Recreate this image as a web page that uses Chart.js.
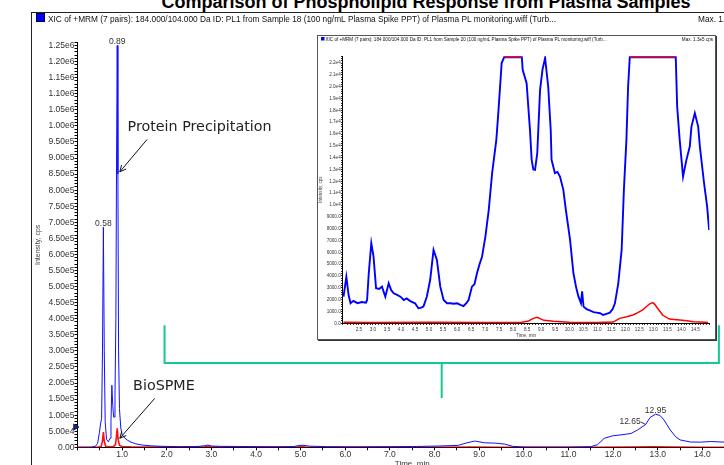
<!DOCTYPE html>
<html>
<head>
<meta charset="utf-8">
<script src="https://cdn.jsdelivr.net/npm/chart.js@4.4.1/dist/chart.umd.min.js"></script>
<style>
  html, body { margin: 0; padding: 0; background: #fff; overflow: hidden; }
  #page { position: relative; width: 724px; height: 465px; overflow: hidden; background: #fff; }
  #title { position: absolute; left: -74px; width: 1000px; top: -8.5px; text-align: center;
           font: bold 18px "Liberation Sans", Arial, sans-serif; line-height: 21px; color: #000; white-space: nowrap; }
  #frame { position: absolute; left: 31px; top: 12px; width: 900px; height: 600px;
           border-left: 1px solid #222; border-top: 1px solid #222; }
  #main { position: absolute; left: 0; top: 0; }
  #insetBox { position: absolute; left: 317px; top: 35px; width: 397px; height: 303px;
              border: 1px solid #555; box-shadow: 1px 1px 0 #333; background: #fff; }
  #inset { position: absolute; left: 0; top: 0; }
</style>
</head>
<body>
<div id="page">
  <div id="title">Comparison of Phospholipid Response from Plasma Samples</div>
  <div id="frame"></div>
  <canvas id="main" width="752" height="476"></canvas>
  <div id="insetBox"><canvas id="inset" width="397" height="303"></canvas></div>
</div>
<script>
// main trace, Sample 18 (protein precipitation), minutes / cps
const pptTime = [0, 0.30, 0.40, 0.45, 0.49, 0.52, 0.54, 0.56, 0.58, 0.60, 0.62, 0.65, 0.69, 0.73, 0.75, 0.77,
  0.79, 0.81, 0.82, 0.84, 0.86, 0.875, 0.89, 0.905, 0.92, 0.94, 0.97, 1.00, 1.05, 1.12, 1.20, 1.30, 1.45,
  1.65, 1.9, 2.3, 2.7, 2.85, 2.92, 3.0, 3.2, 3.6, 4.0, 4.5, 4.85, 4.98, 5.05, 5.2, 5.6, 6.2, 7.0, 7.6, 8.1,
  8.53, 8.7, 8.9, 9.12, 9.35, 9.57, 9.75, 10.0, 10.5, 11.0, 11.5, 11.65, 11.8, 12.0, 12.2, 12.4, 12.55,
  12.73, 12.83, 12.95, 13.05, 13.14, 13.28, 13.4, 13.5, 13.73, 13.95, 14.18, 14.42, 14.7, 15.0];
const pptIntensity = [0, 0, 3000, 12000, 45000, 76000, 90000, 300000, 685000, 300000, 80000, 25000, 17000,
  28000, 80000, 193000, 130000, 94000, 94000, 160000, 400000, 900000, 1250000, 850000, 300000, 120000,
  60000, 40000, 30000, 22000, 16000, 11000, 7000, 4500, 3000, 2000, 2500, 5000, 7000, 4000, 3000, 2500,
  2000, 1500, 2500, 6000, 6500, 3500, 2000, 1500, 2000, 2500, 4000, 6000, 13000, 19500, 14000, 13000,
  10000, 3000, 800, 600, 600, 2000, 8000, 28000, 36000, 39000, 43000, 54000, 71000, 93000, 103000, 99000,
  85000, 54000, 33000, 23000, 16500, 16000, 18000, 16500, 15000, 12000];

// main trace, BioSPME
const spmeTime = [0, 0.45, 0.53, 0.56, 0.58, 0.60, 0.63, 0.70, 0.80, 0.85, 0.87, 0.89, 0.91, 0.94, 1.0,
  1.2, 1.6, 2.5, 2.85, 2.92, 3.0, 4.0, 4.95, 5.02, 5.1, 6.0, 8.0, 8.85, 9.5, 11.5, 12.3, 12.9, 13.4, 14.0, 15.0];
const spmeIntensity = [0, 0, 3000, 20000, 47000, 18000, 3000, 1500, 2000, 8000, 30000, 59000, 25000, 6000,
  2500, 1200, 600, 400, 1500, 3000, 1000, 400, 1500, 3000, 800, 300, 200, 500, 200, 100, 700, 1700, 500, 300, 100];

// inset, Sample 20, 2 - 15 min
const zoomPptTime = [1.95, 2.05, 2.13, 2.2, 2.3, 2.45, 2.6, 2.75, 2.79, 2.85, 2.94, 3.02, 3.11, 3.22, 3.32,
  3.44, 3.56, 3.65, 3.74, 3.86, 3.98, 4.1, 4.2, 4.33, 4.5, 4.62, 4.7, 4.8, 4.92, 5.04, 5.16, 5.28, 5.4, 5.52,
  5.64, 5.76, 5.88, 6.0, 6.12, 6.23, 6.33, 6.41, 6.53, 6.62, 6.71, 6.8, 6.89, 7.01, 7.13, 7.25, 7.4, 7.47,
  7.59, 7.68, 8.31, 8.34, 8.48, 8.6, 8.66, 8.72, 8.78, 8.86, 8.96, 9.05, 9.14, 9.25, 9.34, 9.37, 9.49, 9.58,
  9.67, 9.79, 9.88, 10.03, 10.15, 10.25, 10.33, 10.42, 10.46, 10.51, 10.62, 10.75, 10.87, 10.98, 11.1, 11.21,
  11.33, 11.45, 11.55, 11.63, 11.75, 11.87, 11.95, 12.04, 12.1, 12.16, 13.8, 13.85, 13.94, 14.06, 14.18,
  14.3, 14.36, 14.48, 14.6, 14.66, 14.81, 14.92, 14.99];
const zoomPptIntensity = [2250, 3940, 2390, 1700, 1900, 1700, 1800, 1750, 1970, 4230, 6770, 5630, 2960, 2900,
  3100, 2250, 3380, 2800, 2540, 2400, 2250, 1970, 2100, 1880, 1690, 1270, 1300, 1410, 2250, 3660, 6200, 5360,
  3100, 1970, 1700, 1690, 1650, 1690, 1550, 1460, 1700, 1970, 3100, 3300, 4230, 5000, 5630, 7330, 9590,
  12690, 15510, 17770, 22000, 22500, 22500, 21430, 20300, 16350, 13820, 13000, 12970, 14380, 19740, 21500,
  22420, 20020, 16350, 13820, 12690, 12800, 12400, 11280, 9590, 7050, 4230, 3000, 2250, 1700, 2700, 1410,
  1200, 1070, 950, 900, 850, 700, 800, 900, 1200, 1690, 3380, 6200, 11280, 15510, 20000, 22500, 22500, 18330,
  15510, 12400, 13820, 14940, 16630, 17770, 16630, 14940, 11840, 9860, 7890];
const zoomSpmeTime = [1.95, 3, 5, 7, 8.3, 8.55, 8.72, 8.86, 9.0, 9.1, 9.43, 10.0, 11.0, 11.57, 11.8, 12.05,
  12.27, 12.45, 12.62, 12.75, 12.86, 12.98, 13.05, 13.15, 13.33, 13.57, 13.94, 14.2, 14.42, 14.7, 14.95];
const zoomSpmeIntensity = [80, 60, 80, 60, 80, 200, 420, 510, 350, 250, 170, 80, 60, 100, 420, 550, 700, 900,
  1130, 1400, 1630, 1750, 1600, 1270, 700, 360, 280, 220, 140, 100, 60];
// saturated stretches, drawn as a flat red line at the top of the inset
const satStart = [7.68, 12.16];
const satEnd = [8.31, 13.8];
const satLevel = 22500;

// peak labels
const peakTime = [0.58, 0.89, 12.95];
const peakHeight = [685000, 1250000, 103000];
const peakLabel = ['0.58', '0.89', '12.95'];
const shoulderLabel = '12.65';
const shoulderPoint = [12.73, 71000];

const FONT = '"Liberation Sans", Arial, sans-serif';

function points(ts, vs) {
  return ts.map((t, i) => ({ x: t, y: vs[i] }));
}

function fmtMain(v) {
  if (v === 0) return '0.00';
  const e = Math.floor(Math.log10(v) + 1e-9);
  return (v / Math.pow(10, e)).toFixed(2) + 'e' + e;
}

function fmtInset(v) {
  if (v >= 10000) return (v / 10000).toFixed(1) + 'e4';
  return v.toFixed(1);
}

function arrow(ctx, x0, y0, x1, y1) {
  ctx.beginPath();
  ctx.moveTo(x0, y0);
  ctx.lineTo(x1, y1);
  const a = Math.atan2(y1 - y0, x1 - x0);
  const h = 7;
  ctx.moveTo(x1, y1);
  ctx.lineTo(x1 - h * Math.cos(a - 0.45), y1 - h * Math.sin(a - 0.45));
  ctx.moveTo(x1, y1);
  ctx.lineTo(x1 - h * Math.cos(a + 0.45), y1 - h * Math.sin(a + 0.45));
  ctx.stroke();
}

const mainOverlay = {
  id: 'mainOverlay',
  afterDraw(chart) {
    const { ctx, scales: { x, y } } = chart;
    ctx.save();

    // header line
    ctx.fillStyle = '#0000ff';
    ctx.fillRect(37, 14, 7, 7);
    ctx.strokeStyle = '#000033';
    ctx.lineWidth = 1;
    ctx.strokeRect(36.5, 13.5, 8, 8);
    ctx.fillStyle = '#111';
    ctx.font = '8.3px ' + FONT;
    ctx.textAlign = 'left';
    ctx.textBaseline = 'alphabetic';
    ctx.fillText('XIC of +MRM (7 pairs): 184.000/104.000 Da ID: PL1 from Sample 18 (100 ng/mL Plasma Spike PPT) of Plasma PL monitoring.wiff (Turb...', 48, 22);
    ctx.fillText('Max. 1.3e6 cps', 698, 22);

    // peak labels
    ctx.font = '8.5px ' + FONT;
    ctx.fillStyle = '#333';
    ctx.textAlign = 'center';
    peakTime.forEach((t, i) => {
      ctx.fillText(peakLabel[i], x.getPixelForValue(t), y.getPixelForValue(peakHeight[i]) - 1.5);
    });
    const sx = x.getPixelForValue(shoulderPoint[0]);
    const sy = y.getPixelForValue(shoulderPoint[1]);
    ctx.textAlign = 'right';
    ctx.fillText(shoulderLabel, sx - 5, sy);
    ctx.strokeStyle = '#333';
    ctx.beginPath();
    ctx.moveTo(sx - 5, sy - 2.5);
    ctx.lineTo(sx, sy);
    ctx.stroke();

    // callouts
    ctx.font = '14.3px "DejaVu Sans", Verdana, sans-serif';
    ctx.fillStyle = '#222';
    ctx.strokeStyle = '#111';
    ctx.textAlign = 'left';
    ctx.textBaseline = 'middle';
    let tx = x.getPixelForValue(0.948), ty = y.getPixelForValue(857000);
    ctx.fillText('Protein Precipitation', tx + 7.7, ty - 45);
    arrow(ctx, tx + 27.3, ty - 32.4, tx, ty);
    tx = x.getPixelForValue(0.948); ty = y.getPixelForValue(28000);
    ctx.fillText('BioSPME', tx + 13.3, ty - 51.6);
    arrow(ctx, tx + 35, ty - 40, tx, ty);

    // bracket pointing from the zoom window down to the trace
    const bl = x.getPixelForValue(1.95), br = x.getPixelForValue(14.37), bm = x.getPixelForValue(8.16);
    const bTop = y.getPixelForValue(380000), bMid = y.getPixelForValue(262000), bLow = y.getPixelForValue(153000);
    ctx.strokeStyle = '#14c896';
    ctx.lineWidth = 2;
    ctx.beginPath();
    ctx.moveTo(bl, bTop); ctx.lineTo(bl, bMid); ctx.lineTo(br, bMid); ctx.lineTo(br, bTop);
    ctx.moveTo(bm, bMid); ctx.lineTo(bm, bLow);
    ctx.stroke();
    ctx.restore();
  }
};

const insetOverlay = {
  id: 'insetOverlay',
  afterDraw(chart) {
    const { ctx } = chart;
    ctx.save();
    ctx.fillStyle = '#0000ff';
    ctx.fillRect(3, 1, 3.5, 3.5);
    ctx.fillStyle = '#111';
    ctx.font = '4.6px ' + FONT;
    ctx.textBaseline = 'alphabetic';
    ctx.textAlign = 'left';
    ctx.fillText('XIC of +MRM (7 pairs): 184.000/104.000 Da ID: PL1 from Sample 20 (100 ng/mL Plasma Spike PPT) of Plasma PL monitoring.wiff (Turb...', 7.5, 4.8);
    ctx.textAlign = 'right';
    ctx.fillText('Max. 1.3e5 cps', 395, 4.8);
    ctx.restore();
  }
};

new Chart(document.getElementById('main'), {
  type: 'line',
  data: {
    datasets: [
      { label: 'PPT', data: points(pptTime, pptIntensity), borderColor: '#1010ff', borderWidth: 1,
        pointRadius: 0, tension: 0, fill: false },
      { label: 'BioSPME', data: points(spmeTime, spmeIntensity), borderColor: '#ff1010', borderWidth: 1.6,
        pointRadius: 0, tension: 0, fill: false },
      { label: 'threshold', data: [{ x: -0.045, y: 63000 }], showLine: false, clip: false,
        pointStyle: 'triangle', rotation: 90, pointRadius: 3.5, backgroundColor: '#1a237e', borderColor: '#1a237e' }
    ]
  },
  options: {
    responsive: false,
    animation: false,
    events: [],
    layout: { padding: { left: 0, right: 1.75, top: 42.3, bottom: 0 } },
    plugins: { legend: { display: false }, tooltip: { enabled: false } },
    scales: {
      x: {
        type: 'linear', min: 0, max: 15,
        afterFit(s) { s.height = 28.7; },
        grid: { drawOnChartArea: false, drawTicks: true, tickLength: 3, tickColor: '#000' },
        border: { color: '#000', width: 1 },
        ticks: {
          stepSize: 0.5, autoSkip: false, maxRotation: 0, padding: -1,
          color: '#333', font: { family: FONT, size: 8.5 },
          callback: v => (Number.isInteger(v) && v >= 1 && v <= 14) ? v.toFixed(1) : ''
        },
        title: { display: true, text: 'Time, min', color: '#333', font: { family: FONT, size: 8 },
                 padding: { top: 0, bottom: 7.2 } }
      },
      y: {
        min: 0, max: 1260000,
        afterFit(s) { s.width = 77.5; },
        grid: { drawOnChartArea: false, drawTicks: true, tickLength: 3, tickColor: '#000' },
        border: { color: '#000', width: 1 },
        ticks: {
          stepSize: 10000, autoSkip: false, padding: 0,
          color: '#333', font: { family: FONT, size: 8.5 },
          callback: v => (v % 50000 === 0) ? fmtMain(v) : ''
        },
        title: { display: true, text: 'Intensity, cps', color: '#444', font: { family: FONT, size: 7 },
                 padding: { top: 33.8, bottom: 0 } }
      }
    }
  },
  plugins: [mainOverlay]
});

const satData = [];
satStart.forEach((s, i) => {
  satData.push({ x: s, y: satLevel }, { x: satEnd[i], y: satLevel }, { x: satEnd[i], y: null });
});

new Chart(document.getElementById('inset'), {
  type: 'line',
  data: {
    datasets: [
      { label: 'saturated', data: satData, borderColor: '#ff0000', borderWidth: 1.2, pointRadius: 0,
        spanGaps: false, clip: 2 },
      { label: 'PPT', data: points(zoomPptTime, zoomPptIntensity), borderColor: '#0000ff', borderWidth: 1.9,
        pointRadius: 0, tension: 0, fill: false },
      { label: 'BioSPME', data: points(zoomSpmeTime, zoomSpmeIntensity), borderColor: '#ff0000', borderWidth: 1.5,
        pointRadius: 0, tension: 0, fill: false }
    ]
  },
  options: {
    responsive: false,
    animation: false,
    events: [],
    layout: { padding: { left: 0, right: 5.6, top: 20, bottom: 0 } },
    plugins: { legend: { display: false }, tooltip: { enabled: false } },
    scales: {
      x: {
        type: 'linear', min: 1.92, max: 15,
        afterFit(s) { s.height = 15.7; },
        grid: { drawOnChartArea: false, drawTicks: true, tickLength: 1.5, tickColor: '#000' },
        border: { color: '#000', width: 1 },
        ticks: {
          stepSize: 0.1, autoSkip: false, maxRotation: 0, padding: 1.7,
          color: '#333', font: { family: FONT, size: 4.6 },
          callback: v => (Math.abs(v * 2 - Math.round(v * 2)) < 1e-6 && v >= 2 && v <= 14.6) ? v.toFixed(1) : ''
        },
        title: { display: true, text: 'Time, min', color: '#333', font: { family: FONT, size: 4.6 },
                 padding: { top: 0, bottom: 0.9 } }
      },
      y: {
        min: 0, max: 22600,
        afterFit(s) { s.width = 24.7; },
        grid: { drawOnChartArea: false, drawTicks: true, tickLength: 1.5, tickColor: '#000' },
        border: { color: '#000', width: 1 },
        ticks: {
          stepSize: 200, autoSkip: false, padding: 0.5,
          color: '#333', font: { family: FONT, size: 4.6 },
          callback: v => (v % 1000 === 0) ? fmtInset(v) : ''
        },
        title: { display: true, text: 'Intensity, cps', color: '#444', font: { family: FONT, size: 4.6 },
                 padding: { top: 0, bottom: 0 } }
      }
    }
  },
  plugins: [insetOverlay]
});
</script>
</body>
</html>
